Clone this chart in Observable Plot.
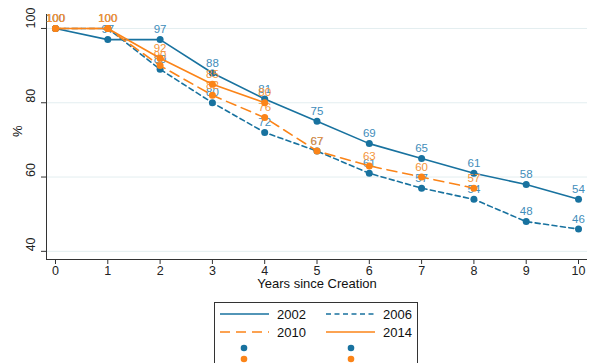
<!DOCTYPE html>
<html>
<head>
<meta charset="utf-8">
<script src="https://cdn.jsdelivr.net/npm/d3@7"></script>
<script src="https://cdn.jsdelivr.net/npm/@observablehq/plot@0.6"></script>
<style>
  html, body { margin: 0; padding: 0; background: #fff; overflow: hidden; }
  body { width: 589px; height: 363px; position: relative; font-family: "Liberation Sans", Arial, sans-serif; }
  #legend { position: absolute; left: 214px; top: 302px; width: 204px; height: 80px; border: 1px solid #333; box-sizing: border-box; background: #fff; }
</style>
</head>
<body>
<div id="chart"></div>
<div id="legend"></div>
<script>
// Share of cohorts still active, by years since creation
const years = [0, 1, 2, 3, 4, 5, 6, 7, 8, 9, 10];
const cohorts = ["2002", "2006", "2010", "2014"];
const v2002 = [100, 97, 97, 88, 81, 75, 69, 65, 61, 58, 54];
const v2006 = [100, 100, 89, 80, 72, 67, 61, 57, 54, 48, 46];
const v2010 = [100, 100, 90, 82, 76, 67, 63, 60, 57];
const v2014 = [100, 100, 92, 85, 80];
const yTicks = [40, 60, 80, 100];

const blue = "#18729f", orange = "#fb8418";
const blueLabel = "#3f8dba", orangeLabel = "#f5953a";
const styles = {
  "2002": {stroke: blue, label: blueLabel, dash: null},
  "2006": {stroke: blue, label: blueLabel, dash: "5,3.5"},
  "2010": {stroke: orange, label: orangeLabel, dash: "10,6"},
  "2014": {stroke: orange, label: orangeLabel, dash: null}
};
const values = {"2002": v2002, "2006": v2006, "2010": v2010, "2014": v2014};

const xDomain = [-0.172, 10.172];
const yDomain = [37.8, 103.76];

const seriesMarks = [];
for (const c of cohorts) {
  const rows = values[c].map((v, i) => ({x: years[i], v}));
  const s = styles[c];
  seriesMarks.push(
    Plot.line(rows, {x: "x", y: "v", stroke: s.stroke, strokeWidth: 1.6, strokeDasharray: s.dash}),
    Plot.dot(rows, {x: "x", y: "v", fill: s.stroke, r: 3.5}),
    Plot.text(rows, {x: "x", y: "v", text: d => String(d.v), dy: -10, fill: s.label, fontSize: 11.5})
  );
}

const chart = Plot.plot({
  width: 589,
  height: 296,
  marginLeft: 46,
  marginRight: 2,
  marginTop: 14,
  marginBottom: 37,
  style: {fontFamily: "Liberation Sans, Arial, sans-serif", background: "#fff", color: "#222"},
  x: {domain: xDomain},
  y: {domain: yDomain},
  marks: [
    Plot.gridY(yTicks, {stroke: "#e3eef0", strokeOpacity: 1}),
    Plot.axisX({ticks: years, tickSize: 5, tickPadding: 2, fontSize: 12.5, label: null, stroke: "#333"}),
    Plot.axisY({ticks: yTicks, tickSize: 5, tickFormat: () => "", label: null, stroke: "#333"}),
    Plot.text(yTicks, {y: d => d, frameAnchor: "left", text: d => String(d), rotate: -90, dx: -16, fontSize: 12.5, fill: "#222"}),
    Plot.ruleX([xDomain[0]], {stroke: "#333"}),
    Plot.ruleY([yDomain[0]], {stroke: "#333"}),
    Plot.text(["Years since Creation"], {frameAnchor: "bottom", dy: 28, fontSize: 13, fill: "#111"}),
    Plot.text(["%"], {frameAnchor: "left", dx: -29, rotate: -90, fontSize: 13, fill: "#111"}),
    ...seriesMarks
  ]
});
document.getElementById("chart").appendChild(chart);

// Legend: line keys with labels, then marker keys
const leg = d3.select("#legend").append("svg").attr("width", 204).attr("height", 80)
  .style("font-family", "Liberation Sans, Arial, sans-serif");
const cols = [{x0: 5, lab: 62, dot: 29}, {x0: 111, lab: 168, dot: 136}];
cohorts.forEach((c, i) => {
  const col = cols[i % 2];
  const y = 11 + Math.floor(i / 2) * 18;
  const s = styles[c];
  leg.append("line").attr("x1", col.x0).attr("x2", col.x0 + 49).attr("y1", y).attr("y2", y)
    .attr("stroke", s.stroke).attr("stroke-width", 1.6).attr("stroke-dasharray", s.dash);
  leg.append("text").attr("x", col.lab).attr("y", y + 4.5).attr("font-size", 13).attr("fill", "#111").text(c);
});
cohorts.forEach((c, i) => {
  const col = cols[i % 2];
  const y = 45 + Math.floor(i / 2) * 11;
  leg.append("circle").attr("cx", col.dot).attr("cy", y).attr("r", 3.3).attr("fill", styles[c].stroke);
});
</script>
</body>
</html>
